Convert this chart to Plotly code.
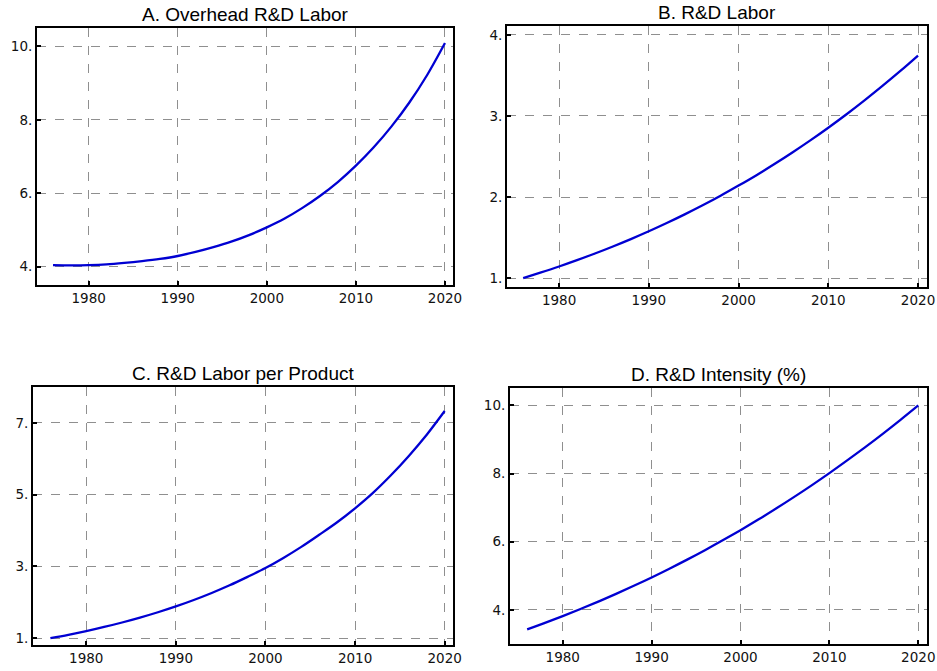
import plotly.graph_objects as go

years = [1976, 1978, 1980, 1982, 1984, 1986, 1988, 1990, 1992, 1994, 1996, 1998,
         2000, 2002, 2004, 2006, 2008, 2010, 2012, 2014, 2016, 2018, 2020]

overhead_rd_labor = [4.04, 4.035, 4.04, 4.06, 4.10, 4.15, 4.21, 4.29, 4.40, 4.53, 4.68, 4.86,
                     5.07, 5.31, 5.60, 5.93, 6.31, 6.75, 7.25, 7.82, 8.47, 9.22, 10.09]

rd_labor = [1.000, 1.070, 1.143, 1.221, 1.303, 1.390, 1.481, 1.577, 1.679, 1.786, 1.898, 2.016,
            2.141, 2.270, 2.407, 2.550, 2.699, 2.855, 3.018, 3.189, 3.367, 3.552, 3.745]

rd_labor_per_product = [1.000, 1.095, 1.199, 1.312, 1.437, 1.573, 1.722, 1.885, 2.064, 2.260, 2.474, 2.709,
                        2.955, 3.236, 3.544, 3.881, 4.230, 4.620, 5.050, 5.540, 6.080, 6.670, 7.330]

rd_intensity = [3.430, 3.620, 3.819, 4.027, 4.244, 4.471, 4.707, 4.952, 5.209, 5.475, 5.752, 6.040,
                6.340, 6.651, 6.973, 7.308, 7.654, 8.013, 8.385, 8.769, 9.166, 9.577, 10.000]

titles = ["A. Overhead R&D Labor", "B. R&D Labor", "C. R&D Labor per Product", "D. R&D Intensity (%)"]
series = [overhead_rd_labor, rd_labor, rd_labor_per_product, rd_intensity]

x_ticks = [1980, 1990, 2000, 2010, 2020]
x_tick_text = ["1980", "1990", "2000", "2010", "2020"]
y_ticks = [[4, 6, 8, 10], [1, 2, 3, 4], [1, 3, 5, 7], [4, 6, 8, 10]]
y_tick_text = [["4.", "6.", "8.", "10."], ["1.", "2.", "3.", "4."],
               ["1.", "3.", "5.", "7."], ["4.", "6.", "8.", "10."]]

x_ranges = [[1974.2, 2020.9], [1974.2, 2021.0], [1974.06, 2020.93], [1974.07, 2020.98]]
y_ranges = [[3.5, 10.5], [0.89, 4.11], [0.81, 8.0], [3.0, 10.51]]

W, H = 937, 671
# screen pixel boxes: left, right, top, bottom
boxes = [(37, 453, 28, 285), (507, 927, 26, 287), (33, 453, 387, 645), (510, 927, 388, 644)]

fig = go.Figure()
annotations = []
for i in range(4):
    n = "" if i == 0 else str(i + 1)
    fig.add_trace(go.Scatter(x=years, y=series[i], mode="lines", line=dict(color="#0000d2", width=2.3),
                             line_shape="spline", xaxis="x" + n, yaxis="y" + n, showlegend=False,
                             hoverinfo="skip"))
    l, r, t, b = boxes[i]
    xd = [l / W, r / W]
    yd = [1 - b / H, 1 - t / H]
    common = dict(showline=True, linecolor="black", linewidth=2, mirror=True, automargin=False,
                  showgrid=True, gridcolor="#8f8f8f", gridwidth=1, griddash="dash",
                  zeroline=False, ticks="inside", ticklen=4, tickwidth=2, tickcolor="black",
                  tickfont=dict(family="DejaVu Sans", size=13.5, color="#111111"))
    fig.layout["xaxis" + n] = dict(domain=xd, range=x_ranges[i], tickvals=x_ticks, ticktext=x_tick_text,
                                   anchor="y" + n, **common)
    fig.layout["yaxis" + n] = dict(domain=yd, range=y_ranges[i], tickvals=y_ticks[i], ticktext=y_tick_text[i],
                                   anchor="x" + n, **common)
    annotations.append(dict(text=titles[i], x=(xd[0] + xd[1]) / 2, y=yd[1], xref="paper", yref="paper",
                            xanchor="center", yanchor="bottom", showarrow=False, yshift=1,
                            font=dict(family="Liberation Sans, Arial", size=19, color="black")))

fig.update_layout(width=W, height=H, margin=dict(l=0, r=0, t=0, b=0),
                  paper_bgcolor="white", plot_bgcolor="white", annotations=annotations)

fig.write_html("out.html", config={"displayModeBar": False},
               post_script="document.body.style.margin='0px';")
